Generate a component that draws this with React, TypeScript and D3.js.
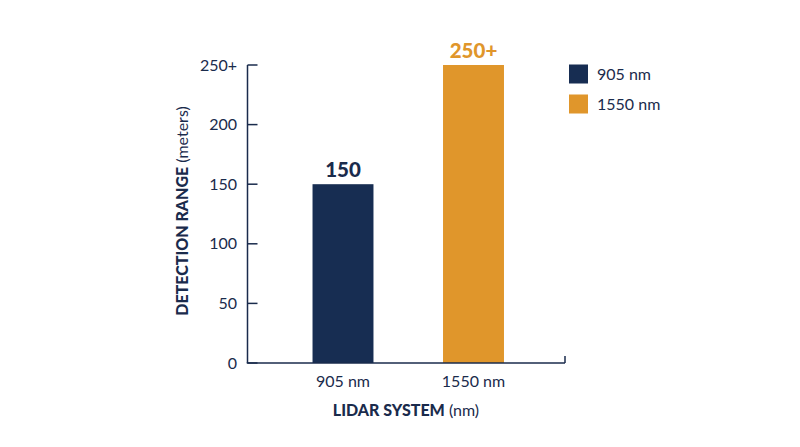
import React from 'react';
import * as d3 from 'd3';

const categories = ['905 nm', '1550 nm'];
const values = [150, 250];
const valueLabels = ['150', '250+'];
const yTicks = [0, 50, 100, 150, 200, 250];
const yTickLabels = ['0', '50', '100', '150', '200', '250+'];
const colors = ['#172d52', '#e0962b'];

const NAVY = '#1a2b4c';
const FONT = 'Lato, "Open Sans", sans-serif';

export default function App() {
  const width = 800;
  const height = 447;
  const axisX = 247.5;
  const axisEnd = 565;

  const y = d3.scaleLinear().domain([0, 250]).range([363, 65]);
  const x = d3.scaleBand<string>()
    .domain(categories)
    .range([277.75, 538.75])
    .paddingInner(0.533)
    .paddingOuter(0.2665);

  return (
    <div style={{ position: 'fixed', top: 0, left: 0 }}>
      <svg width={width} height={height} style={{ display: 'block', background: '#fff' }} fontFamily={FONT}>
        {/* y axis */}
        <line x1={axisX} x2={axisX} y1={y(250)} y2={y(0)} stroke={NAVY} strokeWidth={1.5} />
        {yTicks.map((t, i) => (
          <g key={t}>
            <line x1={axisX} x2={axisX + 10} y1={y(t)} y2={y(t)} stroke={NAVY} strokeWidth={1.5} />
            <text x={237} y={y(t)} dy="0.35em" textAnchor="end" fontSize={16} fill={NAVY}>
              {yTickLabels[i]}
            </text>
          </g>
        ))}

        {/* bars */}
        {categories.map((c, i) => (
          <g key={c}>
            <rect
              x={x(c)}
              y={y(values[i])}
              width={x.bandwidth()}
              height={y(0) - y(values[i])}
              fill={colors[i]}
            />
            <text
              x={(x(c) ?? 0) + x.bandwidth() / 2}
              y={y(values[i]) - 7}
              textAnchor="middle"
              fontSize={20.5}
              fontWeight={900}
              fill={i === 0 ? NAVY : colors[i]}
            >
              {valueLabels[i]}
            </text>
            <text
              x={(x(c) ?? 0) + x.bandwidth() / 2}
              y={387}
              textAnchor="middle"
              fontSize={16}
              fill={NAVY}
            >
              {c}
            </text>
          </g>
        ))}

        {/* x axis */}
        <line x1={axisX - 0.75} x2={axisEnd} y1={y(0)} y2={y(0)} stroke={NAVY} strokeWidth={1.5} />
        <line x1={axisEnd} x2={axisEnd} y1={y(0) - 7} y2={y(0)} stroke={NAVY} strokeWidth={1.5} />

        {/* axis titles */}
        <text x={406} y={416} textAnchor="middle" fontSize={16} fill={NAVY}>
          <tspan fontWeight={900}>LIDAR SYSTEM</tspan>
          <tspan> (nm)</tspan>
        </text>
        <text
          transform="translate(188,211) rotate(-90)"
          textAnchor="middle"
          fontSize={16}
          fill={NAVY}
        >
          <tspan fontWeight={900}>DETECTION RANGE</tspan>
          <tspan> (meters)</tspan>
        </text>

        {/* legend */}
        {categories.map((c, i) => (
          <g key={`lg-${c}`} transform={`translate(569, ${64.5 + i * 30})`}>
            <rect width={19} height={19} fill={colors[i]} />
            <text x={28} y={9.5} dy="0.35em" fontSize={16} fill={NAVY}>
              {c}
            </text>
          </g>
        ))}
      </svg>
    </div>
  );
}
